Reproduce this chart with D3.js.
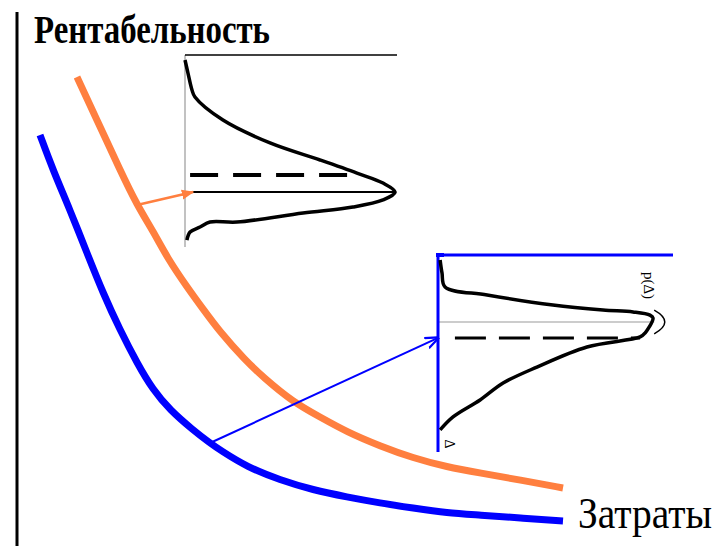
<!DOCTYPE html>
<html>
<head>
<meta charset="utf-8">
<script src="https://cdn.jsdelivr.net/npm/d3@7"></script>
<style>
  html, body { margin: 0; padding: 0; background: #fff; }
  svg { display: block; }
</style>
</head>
<body>
<div id="chart"></div>
<script>
// Main curves: cost (Затраты) vs profitability (Рентабельность), picture units
const orangeCost   = [60, 80, 103, 120, 136, 151, 170, 186, 203, 228, 246, 276, 303, 330, 363, 396, 430, 463, 503, 546];
const orangeProfit = [469, 426, 376, 341, 315, 287, 259, 237, 214, 186, 169, 144, 129, 114, 100, 88, 79, 73, 66, 58];
const blueCost     = [23, 36, 53, 70, 86, 103, 120, 136, 153, 176, 193, 203, 230, 263, 296, 330, 363, 396, 430, 463, 503, 546];
const blueProfit   = [411, 376, 336, 293, 253, 216, 183, 156, 136, 116, 103, 96, 79, 66, 56, 49, 43, 38, 33, 31, 28, 25];

// Inset distributions: density (0-100) against deviation (0-100, top to bottom)
const inset1Density = [0, 1.4, 3.3, 4.7, 17.9, 40.1, 63.7, 81.1, 93.4, 99.1, 93.4, 79.2, 55.7, 24.5, 11.8, 7.1, 2.4, 0.9];
const inset1Delta   = [2.6, 9.4, 18.2, 21.9, 33.9, 45.8, 54.7, 61.5, 66.7, 71.4, 75.5, 79.2, 82.3, 87.0, 87.0, 89.6, 92.2, 96.4];
const inset1Mean = 71.4, inset1Mode = 62.5;

const inset2Density = [0.9, 1.7, 3.0, 20.9, 48.9, 70.2, 83.0, 90.2, 91.5, 88.1, 86.0, 63.4, 42.1, 27.7, 17.9, 6.4, 0.9];
const inset2Delta   = [2.5, 9.1, 16.2, 20.3, 25.4, 27.9, 28.9, 30.5, 32.0, 39.6, 41.6, 46.7, 56.9, 65.0, 73.6, 82.2, 88.8];
const inset2Mean = 34.0, inset2Mode = 42.1;

const yLabel = "Рентабельность";
const xLabel = "Затраты";
const densityLabel = "p(Δ)";
const deltaLabel = "Δ";

const W = 718, H = 546;
const svg = d3.select("#chart").append("svg")
    .attr("width", W).attr("height", H)
    .attr("viewBox", `0 0 ${W} ${H}`);

const x = d3.scaleLinear().domain([0, 700]).range([17, 717]);
const y = d3.scaleLinear().domain([0, 540]).range([546, 6]);

const defs = svg.append("defs");
defs.append("marker")
    .attr("id", "arrowOrange")
    .attr("viewBox", "0 0 10 10").attr("refX", 9).attr("refY", 5)
    .attr("markerWidth", 5).attr("markerHeight", 5).attr("orient", "auto")
    .append("path").attr("d", "M0,1L10,5L0,9z").attr("fill", "#ff7f3f");
defs.append("marker")
    .attr("id", "arrowBlue")
    .attr("viewBox", "0 0 10 10").attr("refX", 9).attr("refY", 5)
    .attr("markerWidth", 7).attr("markerHeight", 7).attr("orient", "auto")
    .append("path").attr("d", "M0,1L10,5L0,9").attr("fill", "none")
    .attr("stroke", "#0000ff").attr("stroke-width", 1.6);

// vertical axis
svg.append("line")
    .attr("x1", x(0)).attr("x2", x(0))
    .attr("y1", y(534)).attr("y2", y(0))
    .attr("stroke", "#000").attr("stroke-width", 3);

const mainLine = d3.line()
    .x(d => x(d[0])).y(d => y(d[1]))
    .curve(d3.curveBasis);

const orangePts = orangeCost.map((c, i) => [c, orangeProfit[i]]);
const bluePts = blueCost.map((c, i) => [c, blueProfit[i]]);

svg.append("path").attr("d", mainLine(orangePts))
    .attr("fill", "none").attr("stroke", "#ff7f3f").attr("stroke-width", 7);
svg.append("path").attr("d", mainLine(bluePts))
    .attr("fill", "none").attr("stroke", "#0000ff").attr("stroke-width", 7);

// inset boxes (in picture units)
const insets = [
    { x0: 168, x1: 380, y0: 491, y1: 299, density: inset1Density, delta: inset1Delta,
      mean: inset1Mean, mode: inset1Mode, frame: "#000", side: "#999", from: orangePts[3],
      arrowColor: "#ff7f3f", marker: "arrowOrange", arrowTo: [3.8, inset1Mean], arrowWidth: 2.5 },
    { x0: 421, x1: 656, y0: 291, y1: 94, density: inset2Density, delta: inset2Delta,
      mean: inset2Mean, mode: inset2Mode, frame: "#0000ff", side: "#0000ff", from: bluePts[10],
      arrowColor: "#0000ff", marker: "arrowBlue", arrowTo: [0, inset2Mode], arrowWidth: 2 }
];

insets.forEach((ins, k) => {
    const dx = d3.scaleLinear().domain([0, 100]).range([x(ins.x0), x(ins.x1)]);
    const dy = d3.scaleLinear().domain([0, 100]).range([y(ins.y0), y(ins.y1)]);
    const g = svg.append("g");

    // mean line (solid) and mode line (dashed)
    if (k === 0) {
        g.append("line").attr("x1", dx(3.8)).attr("x2", dx(99))
            .attr("y1", dy(ins.mean)).attr("y2", dy(ins.mean))
            .attr("stroke", "#000").attr("stroke-width", 2);
        g.append("line").attr("x1", dx(2.4)).attr("x2", dx(82))
            .attr("y1", dy(ins.mode)).attr("y2", dy(ins.mode))
            .attr("stroke", "#000").attr("stroke-width", 4)
            .attr("stroke-dasharray", "28,15");
    } else {
        g.append("line").attr("x1", dx(0)).attr("x2", dx(92))
            .attr("y1", dy(ins.mean)).attr("y2", dy(ins.mean))
            .attr("stroke", "#999").attr("stroke-width", 1.2);
        g.append("line").attr("x1", dx(7.2)).attr("x2", dx(86))
            .attr("y1", dy(ins.mode)).attr("y2", dy(ins.mode))
            .attr("stroke", "#000").attr("stroke-width", 3)
            .attr("stroke-dasharray", "31,13");
    }

    // frame
    g.append("line").attr("x1", dx(0)).attr("x2", dx(0))
        .attr("y1", dy(0)).attr("y2", dy(100))
        .attr("stroke", ins.side).attr("stroke-width", k === 0 ? 1.2 : 3);
    g.append("line").attr("x1", dx(0)).attr("x2", dx(100))
        .attr("y1", dy(0)).attr("y2", dy(0))
        .attr("stroke", ins.frame).attr("stroke-width", k === 0 ? 1.5 : 3);

    // density curve
    const pts = ins.density.map((d, i) => [d, ins.delta[i]]);
    g.append("path")
        .attr("d", d3.line().x(d => dx(d[0])).y(d => dy(d[1])).curve(d3.curveCatmullRom)(pts))
        .attr("fill", "none").attr("stroke", "#000").attr("stroke-width", 3.5);

    if (k === 1) {
        // small arc at the peak
        g.append("path")
            .attr("d", `M${dx(92)},${dy(28)} Q${dx(101)},${dy(34)} ${dx(92)},${dy(40)}`)
            .attr("fill", "none").attr("stroke", "#000").attr("stroke-width", 1.5);
        g.append("text")
            .attr("transform", `translate(${dx(87.5)},${dy(15.5)}) rotate(90)`)
            .attr("text-anchor", "middle")
            .attr("font-family", "Liberation Serif, serif")
            .attr("font-size", 15)
            .text(densityLabel);
        g.append("text")
            .attr("transform", `translate(${dx(3)},${dy(96)}) rotate(90)`)
            .attr("text-anchor", "middle")
            .attr("font-family", "Liberation Serif, serif")
            .attr("font-size", 14)
            .text(deltaLabel);
        g.append("rect").attr("x", dx(0) - 2).attr("y", dy(0) - 2)
            .attr("width", 8).attr("height", 4).attr("fill", "#0000ff");
    }

    // arrow from the curve to the inset
    g.append("line")
        .attr("x1", x(ins.from[0])).attr("y1", y(ins.from[1]))
        .attr("x2", dx(ins.arrowTo[0])).attr("y2", dy(ins.arrowTo[1]))
        .attr("stroke", ins.arrowColor).attr("stroke-width", ins.arrowWidth)
        .attr("marker-end", `url(#${ins.marker})`);
});

// axis titles
svg.append("text")
    .attr("x", 34).attr("y", 43)
    .attr("font-family", "Liberation Serif, serif")
    .attr("font-weight", "bold")
    .attr("font-size", 39)
    .attr("textLength", 236).attr("lengthAdjust", "spacingAndGlyphs")
    .text(yLabel);

svg.append("text")
    .attr("transform", "translate(578,528) scale(1,1.12)")
    .attr("font-family", "Liberation Serif, serif")
    .attr("font-size", 40)
    .attr("textLength", 134).attr("lengthAdjust", "spacingAndGlyphs")
    .text(xLabel);
</script>
</body>
</html>
